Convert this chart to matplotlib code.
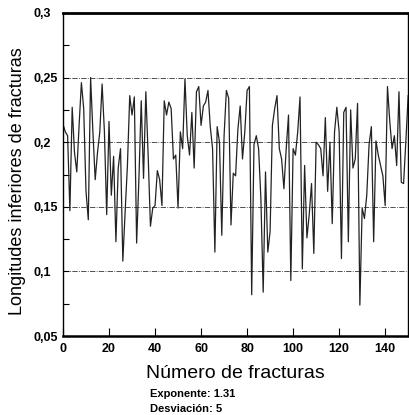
import matplotlib
matplotlib.use("Agg")
import matplotlib.pyplot as plt
import numpy as np

plt.rcParams['font.family'] = ['Liberation Sans', 'DejaVu Sans']

# valores (indice 0..150)
longitudes = [
    0.214, 0.208, 0.205, 0.147, 0.227, 0.192, 0.177, 0.213, 0.246, 0.226,
    0.162, 0.140, 0.250, 0.208, 0.171, 0.192, 0.208, 0.245, 0.208, 0.144,
    0.216, 0.159, 0.189, 0.123, 0.180, 0.195, 0.108, 0.146, 0.182, 0.236,
    0.221, 0.235, 0.122, 0.172, 0.232, 0.172, 0.239, 0.190,
    0.135, 0.149, 0.151, 0.178, 0.171, 0.151, 0.232, 0.221, 0.231, 0.226,
    0.187, 0.190, 0.149, 0.208, 0.195, 0.249, 0.205, 0.190, 0.223, 0.180,
    0.239, 0.243, 0.213, 0.228, 0.231, 0.240, 0.212, 0.195, 0.115, 0.212,
    0.200, 0.128, 0.205, 0.240, 0.234, 0.136,
    0.176, 0.174, 0.210, 0.228, 0.187, 0.208, 0.240, 0.243, 0.082, 0.198,
    0.205, 0.195, 0.156, 0.084, 0.177, 0.115, 0.131, 0.213, 0.226, 0.236,
    0.195, 0.187, 0.164, 0.195, 0.221, 0.093, 0.195, 0.190, 0.208, 0.235,
    0.102, 0.182, 0.126, 0.144, 0.168, 0.114, 0.200,
    0.198, 0.195, 0.174, 0.219, 0.162, 0.200, 0.137, 0.208, 0.227, 0.208,
    0.110, 0.223, 0.227, 0.123, 0.225, 0.180, 0.187, 0.230, 0.074, 0.149,
    0.141, 0.159, 0.198, 0.212, 0.123, 0.201, 0.190, 0.182, 0.174, 0.151,
    0.243, 0.216, 0.195, 0.205, 0.182, 0.239, 0.169, 0.168, 0.201, 0.236,
]
fracturas = np.arange(len(longitudes))

yticks = [0.05, 0.1, 0.15, 0.2, 0.25, 0.3]
ytick_labels = ['0,05', '0,1', '0,15', '0,2', '0,25', '0,3']
xticks = [0, 20, 40, 60, 80, 100, 120, 140]
grid_levels = [0.1, 0.15, 0.2, 0.25]

fig = plt.figure(figsize=(4.09, 4.15), dpi=100)
ax = fig.add_axes([0.154, 0.190, 0.844, 0.779])

ax.plot(fracturas, longitudes, color='#222222', lw=0.9)
for g in grid_levels:
    ax.axhline(g, color='#333333', lw=0.6, ls='-.', zorder=0)

ax.set_xlim(0, 150)
ax.set_ylim(0.05, 0.3)
ax.set_xticks(xticks)
ax.set_xticklabels([str(t) for t in xticks], fontsize=9, fontweight='bold')
ax.set_yticks(yticks)
ax.set_yticklabels(ytick_labels, fontsize=9, fontweight='bold')
ax.set_yticks(np.arange(0.075, 0.3, 0.05), minor=True)
ax.tick_params(axis='both', which='both', direction='in')
ax.tick_params(axis='x', length=6, width=0.8, pad=5)
ax.tick_params(axis='y', length=4, width=0.8, pad=21)
ax.tick_params(axis='y', which='minor', length=4, width=0.8)
for lab in ax.get_yticklabels():
    lab.set_horizontalalignment('left')

ax.spines['top'].set_linewidth(2.0)
ax.spines['bottom'].set_linewidth(1.8)
ax.spines['left'].set_linewidth(1.0)
ax.spines['right'].set_linewidth(1.0)

ax.set_xlabel('Número de fracturas', fontsize=14, labelpad=7)
ax.set_ylabel('Longitudes inferiores de fracturas', fontsize=13)
ax.yaxis.set_label_coords(-0.108, 0.48)

fig.text(0.367, 0.050, 'Exponente: 1.31', fontsize=8, fontweight='bold',
         ha='left', va='center')
fig.text(0.367, 0.015, 'Desviación: 5', fontsize=8, fontweight='bold',
         ha='left', va='center')

fig.savefig('out.png', dpi=100)
